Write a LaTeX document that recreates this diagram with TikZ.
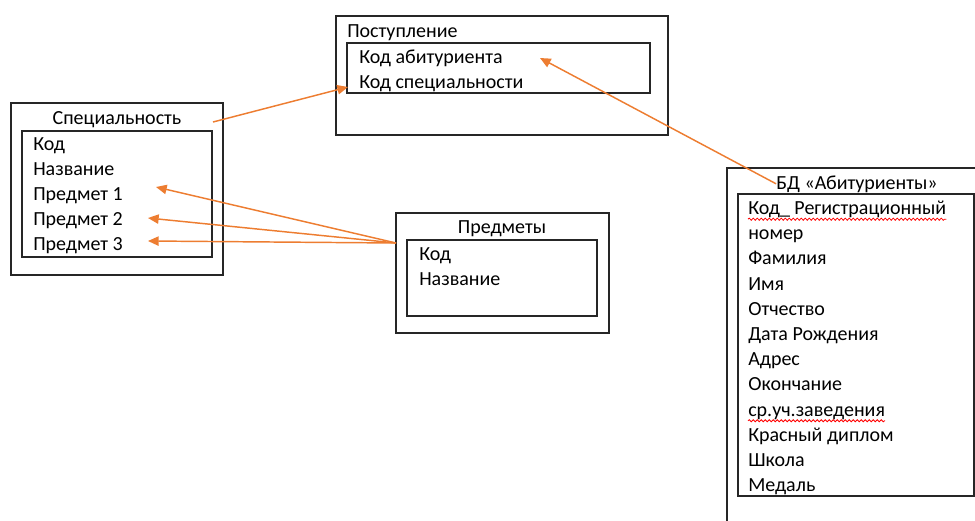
\documentclass[tikz,border=0pt]{standalone}
\usepackage{fontspec}
\setmainfont{Carlito}
\usetikzlibrary{positioning, arrows.meta, fit, decorations.pathmorphing}
\definecolor{accent}{RGB}{237,125,49}

\begin{document}
\begin{tikzpicture}[x=0.75pt,y=-0.75pt,
  box/.style={draw=black!85,line width=1.1pt,inner sep=0pt},
  field/.style={anchor=base west,inner sep=0pt,font=\fontsize{15}{17}\selectfont},
  title/.style={field,anchor=base},
  link/.style={draw=accent,line width=1.1pt},
  spell/.style={draw=red,line width=0.6pt,decorate,
    decoration={snake,amplitude=0.8pt,segment length=3pt}},
  >={Triangle[length=8pt,width=7pt]}]
  \useasboundingbox (0,0) rectangle (975,521);
  % Специальность
  \node[box,fit={(11,103) (223,275)}] (spec) {};
  \node[box,fit={(22,131) (212,257)}] (specin) {};
  \node[title] (spect) at (117,124) {Специальность};
  \node[field] (s1) at (33,150.5) {Код};
  \node[field] (s2) at (33,175.5) {Название};
  \node[field] (s3) at (33,200.5) {Предмет 1};
  \node[field] (s4) at (33,225.5) {Предмет 2};
  \node[field] (s5) at (33,250.5) {Предмет 3};
  % Поступление
  \node[box,fit={(336,16) (668,135)}] (post) {};
  \node[box,fit={(347,43) (650,93)}] (postin) {};
  \node[field] (postt) at (347,37) {Поступление};
  \node[field] (p1) at (359,63.5) {Код абитуриента};
  \node[field] (p2) at (359,88.5) {Код специальности};
  % Предметы
  \node[box,fit={(396,213) (609,333)}] (subj) {};
  \node[box,fit={(407,240) (597,316)}] (subjin) {};
  \node[title] (subjt) at (502,233) {Предметы};
  \node[field] (m1) at (419,260) {Код};
  \node[field] (m2) at (419,285) {Название};
  % БД «Абитуриенты»
  \node[box,fit={(727,168) (995,545)}] (db) {};
  \node[box,fit={(738,194) (974,496)}] (dbin) {};
  \node[title] (dbt) at (857,189) {БД «Абитуриенты»};
  \node[field] (d1) at (748,214.5) {Код\_ Регистрационный};
  \node[field] (d2) at (748,239.7) {номер};
  \node[field] (d3) at (748,264.9) {Фамилия};
  \node[field] (d4) at (748,290.1) {Имя};
  \node[field] (d5) at (748,315.3) {Отчество};
  \node[field] (d6) at (748,340.5) {Дата Рождения};
  \node[field] (d7) at (748,365.7) {Адрес};
  \node[field] (d8) at (748,390.9) {Окончание};
  \node[field] (d9) at (748,416.1) {ср.уч.заведения};
  \node[field] (d10) at (748,441.3) {Красный диплом};
  \node[field] (d11) at (748,466.5) {Школа};
  \node[field] (d12) at (748,491.7) {Медаль};
  \draw[spell] ([yshift=-3.5pt]d1.base west) -- ([yshift=-3.5pt]d1.base east);
  \draw[spell] ([yshift=-3.5pt]d9.base west) -- ([yshift=-3.5pt]d9.base east);
  % arrow ends
  \coordinate (specout) at (213,122);
  \coordinate (kspec) at (348,87);
  \coordinate (kabit) at (540,58);
  \coordinate (subjout) at (396,243);
  \coordinate (tip1) at (156,187);
  \coordinate (tip2) at (148,218);
  \coordinate (tip3) at (148,241);
  \path[->]
    (specout) edge[link] (kspec)
    (dbt.west) edge[link] (kabit)
    (subjout) edge[link] (tip1)
              edge[link] (tip2)
              edge[link] (tip3);
\end{tikzpicture}
\end{document}
